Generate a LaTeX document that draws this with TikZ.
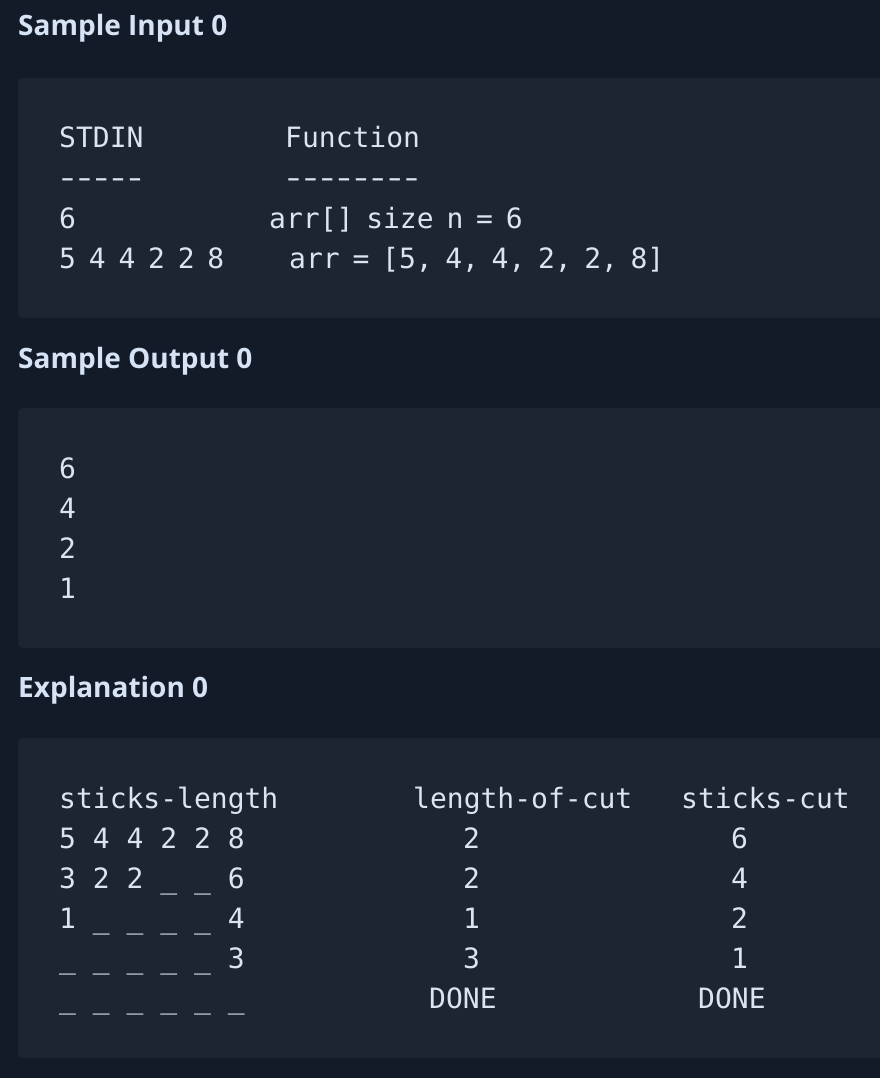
\documentclass[tikz,border=0pt]{standalone}
\usepackage{fontspec}
\usepackage{graphicx}
\setmainfont{Open Sans}
\newfontfamily\mono{DejaVu Sans Mono}
\newcommand\sk{\hspace{12.8pt}}
\newcommand\dsh{\makebox[0.602em]{\scalebox{1.45}[1]{-}}}
\definecolor{pagebg}{HTML}{131A28}
\definecolor{boxbg}{HTML}{1E2532}
\definecolor{codetxt}{HTML}{DCE4EF}
\definecolor{headtxt}{HTML}{D6E3F5}
\tikzset{
  heading/.style={anchor=base west, inner sep=0pt, text=headtxt, font=\fontsize{28}{32}\selectfont\bfseries},
  code/.style={anchor=base west, inner sep=0pt, text=codetxt, font=\fontsize{28}{40}\selectfont\mono},
  codebox/.style={fill=boxbg, rounded corners=5pt}
}
\begin{document}
\begin{tikzpicture}[x=1pt, y=-1pt]
\useasboundingbox (0,0) rectangle (880,1078);
\clip (0,0) rectangle (880,1078);
\fill[pagebg] (0,0) rectangle (880,1078);
% boxes
\fill[codebox] (18,78) rectangle (900,318);
\fill[codebox] (18,408) rectangle (900,648);
\fill[codebox] (18,738) rectangle (900,1058);
% headings
\node[heading] (h1) at (18,36) {Sample Input 0};
\node[heading] (h2) at (18,368) {Sample Output 0};
\node[heading] (h3) at (18,697) {Explanation 0};
% sample input
\node[code] (stdin) at (59,148) {STDIN};
\node[code] (stdinrule) at (59,188) {\dsh\dsh\dsh\dsh\dsh};
\node[code] (in1) at (59,228) {6};
\node[code] (in2) at (59,268) {5\sk 4\sk 4\sk 2\sk 2\sk 8};
\node[code] (func) at (285,148) {Function};
\node[code] (funcrule) at (285,188) {\dsh\dsh\dsh\dsh\dsh\dsh\dsh\dsh};
\node[code] (f1) at (269,228) {arr[]\sk size\sk n\sk =\sk 6};
\node[code] (f2) at (289,268) {arr\sk =\sk [5,\hspace{12.6pt}4,\hspace{12.6pt}4,\hspace{12.6pt}2,\hspace{12.6pt}2,\hspace{12.6pt}8]};
% sample output
\node[code] (o1) at (59,478) {6};
\node[code] (o2) at (59,518) {4};
\node[code] (o3) at (59,558) {2};
\node[code] (o4) at (59,598) {1};
% explanation
\node[code] (c1h) at (59,808) {sticks-length};
\node[code] (c2h) at (413,808) {length-of-cut};
\node[code] (c3h) at (681,808) {sticks-cut};
\node[code] (r1a) at (59,848) {5 4 4 2 2 8};
\node[code] (r2a) at (59,888) {3 2 2 \_ \_ 6};
\node[code] (r3a) at (59,928) {1 \_ \_ \_ \_ 4};
\node[code] (r4a) at (59,968) {\_ \_ \_ \_ \_ 3};
\node[code] (r5a) at (59,1008) {\_ \_ \_ \_ \_ \_};
\node[code] (r1b) at (463,848) {2};
\node[code] (r2b) at (463,888) {2};
\node[code] (r3b) at (463,928) {1};
\node[code] (r4b) at (463,968) {3};
\node[code] (r5b) at (429,1008) {DONE};
\node[code] (r1c) at (731,848) {6};
\node[code] (r2c) at (731,888) {4};
\node[code] (r3c) at (731,928) {2};
\node[code] (r4c) at (731,968) {1};
\node[code] (r5c) at (698,1008) {DONE};
\end{tikzpicture}
\end{document}
